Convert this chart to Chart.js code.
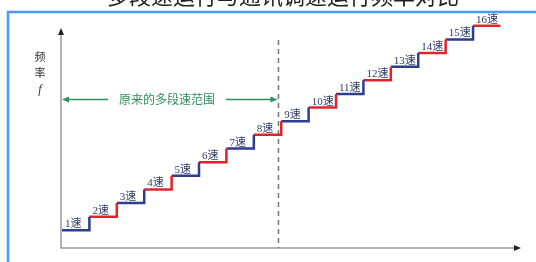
<!DOCTYPE html>
<html><head><meta charset="utf-8">
<script src="https://cdn.jsdelivr.net/npm/chart.js@4.4.0/dist/chart.umd.min.js"></script>
<style>html,body{margin:0;padding:0;background:#fff;}#wrap{width:536px;height:262px;position:relative;}</style>
</head><body><div id="wrap"><canvas id="c" width="536" height="262"></canvas></div>
<script>
const speedLabels = ["1速","2速","3速","4速","5速","6速","7速","8速","9速","10速","11速","12速","13速","14速","15速","16速"];
const levels = [1,2,3,4,5,6,7,8,9,10,11,12,13,14,15,16];
const oldRangeEnd = 7.9;
const arrowLevel = 10.6;
const titleText = "多段速运行与通讯调速运行频率对比";
const rangeText = "原来的多段速范围";
const yAxisLabel = ["频","率","f"];

const BLUE = '#2d3d8f', RED = '#e3222c';
const datasets = levels.map((v, i) => {
  const pts = [{x:i, y:v}, {x:i+1, y:v}];
  if (i < levels.length - 1) pts.push({x:i+1, y:levels[i+1]});
  return {data: pts, borderColor: i % 2 === 0 ? BLUE : RED, borderWidth: 2.5,
          pointRadius: 0, fill: false, tension: 0, borderCapStyle: 'butt', borderJoinStyle: 'miter'};
});

function arrowHead(ctx, x, y, dir, size, color) {
  ctx.save(); ctx.fillStyle = color; ctx.beginPath();
  if (dir === 'up') { ctx.moveTo(x, y); ctx.lineTo(x-3, y+size); ctx.lineTo(x+3, y+size); }
  else if (dir === 'right') { ctx.moveTo(x, y); ctx.lineTo(x-size, y-3); ctx.lineTo(x-size, y+3); }
  else if (dir === 'left') { ctx.moveTo(x, y); ctx.lineTo(x+size, y-3); ctx.lineTo(x+size, y+3); }
  ctx.closePath(); ctx.fill(); ctx.restore();
}

const deco = {
  id: 'deco',
  beforeDatasetsDraw(chart) {
    const {ctx, scales:{x, y}} = chart;
    ctx.save();
    // frame
    ctx.strokeStyle = '#4a9af5'; ctx.lineWidth = 2.5;
    ctx.beginPath(); ctx.moveTo(536, 12); ctx.lineTo(8, 12); ctx.lineTo(8, 262); ctx.stroke();
    // title (clipped at top)
    ctx.fillStyle = '#222'; ctx.font = '22px "Noto Sans CJK SC"';
    ctx.textAlign = 'center'; ctx.textBaseline = 'alphabetic';
    ctx.fillText(titleText, 283, 4);
    // axes
    const x0 = x.getPixelForValue(0) - 1, yb = y.getPixelForValue(y.min) + 2;
    const yTop = 28, xRight = 521;
    ctx.strokeStyle = '#9a9a9a'; ctx.lineWidth = 1.5;
    ctx.beginPath(); ctx.moveTo(x0, yTop + 6); ctx.lineTo(x0, yb); ctx.lineTo(xRight - 6, yb); ctx.stroke();
    arrowHead(ctx, x0, yTop, 'up', 7, '#222');
    arrowHead(ctx, xRight, yb, 'right', 7, '#222');
    // y label
    ctx.fillStyle = '#333'; ctx.font = '11px "Noto Sans CJK SC"'; ctx.textAlign = 'center'; ctx.textBaseline = 'middle';
    ctx.fillText(yAxisLabel[0], 40, 57);
    ctx.fillText(yAxisLabel[1], 40, 73);
    ctx.font = 'italic 12px "Liberation Serif"';
    ctx.fillText(yAxisLabel[2], 40, 90);
    // dashed divider
    const xd = x.getPixelForValue(oldRangeEnd);
    ctx.strokeStyle = '#777'; ctx.lineWidth = 1.5; ctx.setLineDash([5, 4]);
    ctx.beginPath(); ctx.moveTo(xd, 40); ctx.lineTo(xd, yb); ctx.stroke();
    ctx.setLineDash([]);
    // green range arrow
    const ya = y.getPixelForValue(arrowLevel);
    const G = '#2f8f5f';
    ctx.strokeStyle = G; ctx.lineWidth = 1.5;
    ctx.beginPath(); ctx.moveTo(x0 + 6, ya); ctx.lineTo(108, ya); ctx.stroke();
    ctx.beginPath(); ctx.moveTo(226, ya); ctx.lineTo(xd - 7, ya); ctx.stroke();
    arrowHead(ctx, x0 + 1, ya, 'left', 7, G);
    arrowHead(ctx, xd - 1, ya, 'right', 7, G);
    ctx.fillStyle = G; ctx.font = '12px "Noto Sans CJK SC"'; ctx.textAlign = 'center'; ctx.textBaseline = 'middle';
    ctx.fillText(rangeText, 167, ya);
    ctx.restore();
  },
  afterDatasetsDraw(chart) {
    const {ctx, scales:{x, y}} = chart;
    ctx.save();
    ctx.textAlign = 'left'; ctx.textBaseline = 'alphabetic';
    speedLabels.forEach((t, i) => {
      const px = x.getPixelForValue(i) + 3, py = y.getPixelForValue(levels[i]) - 3;
      ctx.fillStyle = '#2f3a66';
      ctx.font = '11px "Liberation Serif", "Noto Sans CJK SC"';
      ctx.fillText(t, px, py);
    });
    ctx.restore();
  }
};

new Chart(document.getElementById('c'), {
  type: 'line',
  data: {datasets},
  options: {
    responsive: false, animation: false,
    layout: {padding: {left: 62, right: 15, top: 21, bottom: 16}},
    plugins: {legend: {display: false}, tooltip: {enabled: false}},
    scales: {
      x: {type: 'linear', min: 0, max: 16.75, display: false},
      y: {type: 'linear', min: -0.15, max: 16.35, display: false}
    }
  },
  plugins: [deco]
});
</script></body></html>
